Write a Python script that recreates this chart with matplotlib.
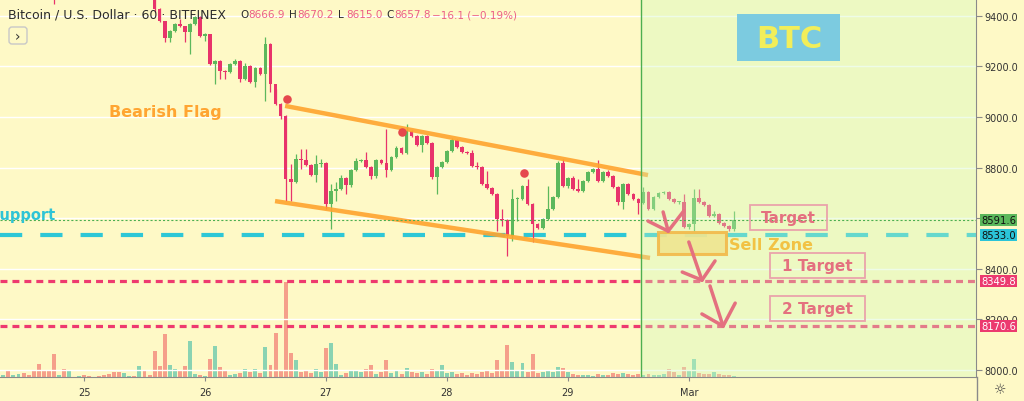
import numpy as np
import pandas as pd
import matplotlib
matplotlib.use("Agg")
import matplotlib.pyplot as plt
import matplotlib.transforms as mtransforms
from matplotlib.patches import Rectangle, FancyBboxPatch
from matplotlib.lines import Line2D

plt.rcParams['font.family'] = 'DejaVu Sans'
plt.rcParams['lines.scale_dashes'] = False

# BTC/USD hourly candles (Bitfinex), first candle 24 Feb 2020 08:00
start = "2020-02-24 08:00"
first_open = 9590
closes = [9600, 9585, 9595, 9605, 9590, 9580, 9565, 9550, 9535, 9520,
          9490, 9510, 9500, 9515, 9518, 9525, 9515, 9510, 9508, 9502,
          9498, 9494, 9490, 9486, 9495, 9502, 9496, 9505, 9490, 9480,
          9427, 9380, 9313, 9340, 9368, 9360, 9336, 9368, 9396, 9320,
          9328, 9210, 9222, 9182, 9178, 9210, 9222, 9150, 9202, 9138,
          9194, 9170, 9289, 9130, 9051, 9004, 8754, 8742, 8833, 8829,
          8810, 8770, 8814, 8818, 8655, 8707, 8715, 8758, 8730, 8790,
          8826, 8829, 8802, 8766, 8829, 8818, 8790, 8841, 8877, 8857,
          8944, 8924, 8889, 8924, 8897, 8762, 8802, 8822, 8865, 8909,
          8881, 8861, 8857, 8806, 8802, 8734, 8719, 8695, 8596, 8592,
          8528, 8675, 8675, 8726, 8655, 8576, 8560, 8596, 8635, 8683,
          8818, 8726, 8758, 8715, 8707, 8746, 8782, 8794, 8746, 8782,
          8766, 8723, 8663, 8734, 8695, 8675, 8659, 8703, 8635, 8683,
          8699, 8703, 8675, 8663, 8663, 8564, 8576, 8679, 8663, 8651,
          8608, 8616, 8580, 8568, 8556, 8591.6]
highs = [9610, 9608, 9602, 9612, 9610, 9596, 9585, 9570, 9555, 9540,
         9525, 9515, 9514, 9520, 9522, 9530, 9530, 9520, 9514, 9512,
         9506, 9502, 9498, 9494, 9499, 9506, 9507, 9510, 9510, 9494,
         9490, 9430, 9382, 9345, 9372, 9388, 9362, 9372, 9400, 9398,
         9332, 9330, 9226, 9225, 9186, 9214, 9229, 9226, 9214, 9206,
         9198, 9197, 9317, 9292, 9111, 9055, 9008, 8814, 8853, 8873,
         8873, 8814, 8849, 8833, 8822, 8734, 8742, 8770, 8762, 8794,
         8837, 8833, 8861, 8806, 8833, 8833, 8952, 8845, 8885, 8881,
         8972, 8948, 8928, 8928, 8928, 8901, 8806, 8826, 8869, 8917,
         8913, 8885, 8865, 8869, 8822, 8806, 8786, 8723, 8699, 8636,
         8596, 8715, 8683, 8730, 8754, 8659, 8580, 8600, 8726, 8687,
         8826, 8833, 8762, 8766, 8754, 8750, 8786, 8798, 8829, 8786,
         8790, 8770, 8727, 8738, 8738, 8699, 8679, 8723, 8707, 8687,
         8703, 8707, 8707, 8679, 8667, 8695, 8580, 8715, 8715, 8667,
         8655, 8627, 8620, 8584, 8572, 8627]
lows = [9582, 9578, 9580, 9590, 9585, 9575, 9560, 9545, 9530, 9512,
        9447, 9482, 9494, 9496, 9510, 9512, 9510, 9504, 9502, 9497,
        9492, 9488, 9484, 9480, 9481, 9490, 9490, 9490, 9484, 9474,
        9416, 9375, 9297, 9297, 9335, 9355, 9297, 9249, 9365, 9315,
        9301, 9205, 9130, 9150, 9150, 9174, 9206, 9138, 9146, 9134,
        9118, 9166, 9063, 9099, 9046, 8992, 8667, 8667, 8738, 8794,
        8806, 8766, 8742, 8802, 8635, 8556, 8667, 8711, 8695, 8723,
        8786, 8822, 8798, 8754, 8758, 8814, 8762, 8786, 8837, 8853,
        8853, 8920, 8885, 8861, 8893, 8754, 8695, 8798, 8818, 8861,
        8877, 8857, 8853, 8802, 8794, 8730, 8715, 8691, 8548, 8568,
        8449, 8509, 8588, 8671, 8651, 8505, 8556, 8556, 8592, 8631,
        8679, 8722, 8719, 8711, 8703, 8703, 8742, 8778, 8742, 8742,
        8762, 8719, 8651, 8635, 8691, 8671, 8616, 8655, 8631, 8631,
        8679, 8695, 8671, 8659, 8655, 8560, 8556, 8548, 8659, 8647,
        8604, 8604, 8576, 8564, 8548, 8548]
volume = [2, 6, 2, 3, 4, 2, 7, 13, 6, 6, 23, 2, 8, 7, 0.5, 1, 2, 1, 0.5, 1,
          2, 3, 5, 5, 4, 1, 1, 11, 6, 2, 26, 11, 43, 12, 8, 7, 11, 36, 3, 2,
          1, 18, 31, 10, 7, 2, 3, 4, 8, 5, 8, 4, 30, 12, 44, 7, 95, 24, 17, 5,
          7, 4, 8, 5, 29, 34, 13, 2, 4, 7, 6, 5, 8, 12, 3, 5, 17, 4, 6, 3,
          9, 5, 4, 5, 3, 8, 6, 12, 4, 5, 3, 4, 2, 4, 3, 5, 6, 4, 17, 6,
          32, 15, 7, 14, 5, 23, 4, 5, 6, 5, 10, 9, 5, 3, 2, 2, 2, 1, 3, 2,
          2, 4, 3, 4, 3, 2, 3, 2, 3, 2, 2, 3, 8, 5, 2, 10, 6, 18, 4, 3,
          3, 5, 3, 2, 2, 1]

day_labels = ["25", "26", "27", "28", "29", "Mar"]
price_ticks = [8000, 8200, 8400, 8600, 8800, 9000, 9200, 9400]
header_ohlc = ["8666.9", "8670.2", "8615.0", "8657.8"]
header_change = "\u221216.1 (\u22120.19%)"

last_price = 8591.6
support = 8533.0
target1 = 8349.8
target2 = 8170.6

# drawings (x in hours from 25 Feb 00:00, y in price)
flag_upper_x, flag_upper_y = [39.9, 111.9], [9044, 8770]
flag_lower_x, flag_lower_y = [37.9, 112.3], [8667, 8442]
pivot_x = [40.3, 63.1, 87.3]
pivot_y = [9071, 8941, 8778]
zone_start = 110.5

BG = '#fef9c6'
GREEN = '#5cb85c'
RED = '#e8336b'
PINK = '#e4707f'

times = pd.date_range(start, periods=len(closes), freq="h")
hours = ((times - pd.Timestamp("2020-02-25")) / pd.Timedelta(hours=1)).to_numpy()
c = np.array(closes, dtype=float)
o = np.concatenate([[first_open], c[:-1]])
h = np.array(highs, dtype=float)
l = np.array(lows, dtype=float)
up = c >= o

fig = plt.figure(figsize=(10.24, 4.02), dpi=100, facecolor=BG)
pix = mtransforms.Affine2D().scale(1 / 1024, -1 / 402).translate(0, 1) + fig.transFigure

axv = fig.add_axes([0, 24 / 402, 976 / 1024, 378 / 402])
axv.set_facecolor(BG)
ax = axv.twinx()

# volume
axv.bar(hours, volume, width=0.78, color=np.where(up, '#8ad3b2', '#f59f8a'))
axv.set_ylim(0, 378)
axv.set_yticks([])
for s in ['top', 'left', 'right']:
    axv.spines[s].set_visible(False)
axv.spines['bottom'].set_color('#8a8a8a')

xlim = (-16.67, 176.98)
axv.set_xlim(*xlim)
axv.set_xticks(24 * np.arange(len(day_labels)))
axv.set_xticklabels(day_labels)
axv.tick_params(axis='x', length=3, color='#8a8a8a', labelsize=7, labelcolor='#333333', pad=4)

# price
ax.set_ylim(7970.4, 9467.3)
ax.set_xlim(*xlim)
ax.set_axisbelow(True)
ax.set_yticks(price_ticks)
ax.set_yticklabels([f"{v:.1f}" for v in price_ticks])
ax.tick_params(axis='y', length=4, color='#8a8a8a', labelsize=7, labelcolor='#333333', pad=2)
ax.grid(True, color='white', lw=1)
for s in ['top', 'left', 'bottom']:
    ax.spines[s].set_visible(False)
ax.spines['right'].set_color('#8a8a8a')

ax.axhline(support, color='#2ec7d6', lw=3, ls=(0, (16, 13)), zorder=2)
ax.axhline(target1, color='#ee3a6f', lw=2.3, ls=(0, (5, 3.6)), zorder=2)
ax.axhline(target2, color='#ee3a6f', lw=2.3, ls=(0, (5, 3.6)), zorder=2)

cols = np.where(up, GREEN, RED)
ax.vlines(hours, l, h, colors=cols, lw=0.9, zorder=3)
ax.bar(hours, np.maximum(np.abs(c - o), 3), bottom=np.minimum(o, c), width=0.74,
       color=cols, zorder=4)

ax.plot(flag_upper_x, flag_upper_y, color='#ffa42e', lw=3.2, alpha=0.9, zorder=5,
        solid_capstyle='butt')
ax.plot(flag_lower_x, flag_lower_y, color='#ffa42e', lw=3.2, alpha=0.9, zorder=5,
        solid_capstyle='butt')
ax.scatter(pivot_x, pivot_y, s=38, color='#e5484d', zorder=6, linewidths=0)

ax.axvspan(zone_start, xlim[1], color='#d0f9bd', alpha=0.35, lw=0, zorder=7)
ax.axvline(zone_start, color='#4caf50', lw=1, zorder=8)
ax.axhline(last_price, color='#4caf50', lw=0.8, ls=(0, (1.5, 1.5)), zorder=8)

# annotations
ax.text(-5.75, 8612, "Support", color='#2fc4d6', fontsize=10.5, fontweight='bold',
        ha='right', va='center', zorder=9)
ax.text(16.2, 9020, "Bearish Flag", color='#ffa532', fontsize=11.5, fontweight='bold',
        ha='center', va='center', zorder=9)

ax.add_patch(Rectangle((129.6, 9222), 20.4, 186, fc='#7ccbe0', ec='none', zorder=9))
ax.text(139.9, 9312, "BTC", color='#f2ee5a', fontsize=22, fontweight='bold',
        ha='center', va='center', zorder=10)

ax.add_patch(Rectangle((113.9, 8457), 13.5, 88, fc='#efe590', ec='#f2b94a', lw=2.2,
                       alpha=0.9, zorder=9))
ax.text(136.3, 8497, "Sell Zone", color='#f2c244', fontsize=11.5, fontweight='bold',
        ha='center', va='center', zorder=10)

boxes = [((132.1, 8552.5), 15.3, "Target", (139.8, 8602)),
         ((136.1, 8362), 18.9, "1 Target", (145.5, 8412)),
         ((136.1, 8192), 18.9, "2 Target", (145.5, 8242))]
for xy, w, label, txy in boxes:
    ax.add_patch(Rectangle(xy, w, 99, fill=False, ec='#eaa3ab', lw=1.3, zorder=9))
    ax.text(*txy, label, color=PINK, fontsize=11, fontweight='bold',
            ha='center', va='center', zorder=10)

arrow_segments = [
    ([111.9, 115.9], [8588, 8548]), ([114.9, 115.9], [8624, 8548]), ([115.9, 119.0], [8548, 8628]),
    ([120.0, 122.6], [8505, 8354]), ([118.7, 122.6], [8386, 8354]), ([125.2, 122.6], [8430, 8354]),
    ([124.2, 126.8], [8331, 8172]), ([122.6, 126.8], [8220, 8172]), ([129.2, 126.8], [8263, 8172]),
]
for xs, ys in arrow_segments:
    ax.plot(xs, ys, color=PINK, lw=2.5, solid_capstyle='round', zorder=10)

# price labels on the scale
side = mtransforms.blended_transform_factory(fig.transFigure, ax.transData)
for val, fc, tc in [(last_price, '#5cb85c', '#111111'), (support, '#2bc4d8', '#111111'),
                    (target1, '#ec3a6f', 'white'), (target2, '#ec3a6f', 'white')]:
    ax.text(981 / 1024, val, f"{val:.1f}", transform=side, fontsize=7.2, color=tc,
            ha='left', va='center', clip_on=False, zorder=20,
            bbox=dict(boxstyle='square,pad=0.1', fc=fc, ec='none'))

# header
fig.text(8, 15, "Bitcoin / U.S. Dollar \u00b7 60 \u00b7 BITFINEX", transform=pix,
         fontsize=9, color='#2b2b2b', va='center')
letter_x = [240, 289, 338, 386]
for letter, lx, val in zip("OHLC", letter_x, header_ohlc):
    fig.text(lx, 15, letter, transform=pix, fontsize=7.5, color='#2b2b2b', va='center')
    fig.text(lx + 8.5, 15, val, transform=pix, fontsize=7.5, color='#ec5f86', va='center')
fig.text(432, 15, header_change, transform=pix, fontsize=7.5, color='#ec5f86', va='center')

fig.patches.append(FancyBboxPatch((9, 28), 18, 17, boxstyle='round,pad=0,rounding_size=3',
                                  transform=pix, fc=BG, ec='#c8c8c8', lw=1))
fig.text(18, 36.5, "\u203a", transform=pix, fontsize=10, color='#333333',
         ha='center', va='center')

fig.add_artist(Line2D([976.5, 976.5], [378, 402], transform=pix, color='#8a8a8a', lw=1))
fig.text(1000, 390, "\u263c", transform=pix, fontsize=10, color='#444444',
         ha='center', va='center')

fig.savefig("out.png", dpi=100, facecolor=BG)
